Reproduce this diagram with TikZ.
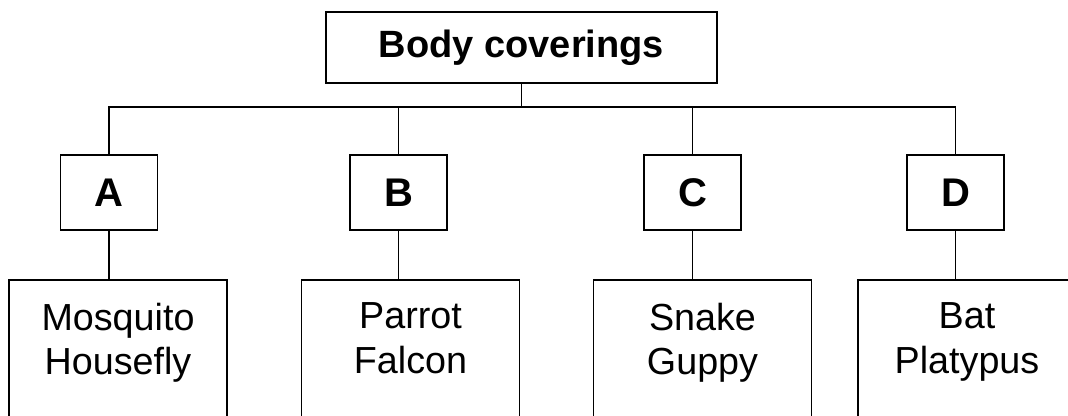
\documentclass[tikz,border=0pt]{standalone}
\usepackage{fontspec}
\setmainfont{Liberation Sans}
\usepackage{tikz}
\usetikzlibrary{positioning}
\tikzset{
	box/.style={draw, line width=1.6pt, inner sep=0pt},
	topbox/.style={box, minimum width=391pt, minimum height=71pt, font=\bfseries\fontsize{38}{44}\selectfont},
	keybox/.style={box, minimum width=97pt, minimum height=75pt, font=\bfseries\fontsize{40}{44}\selectfont},
	listbox/.style={box, anchor=north, minimum width=218pt, align=center, inner ysep=23pt, text depth=150pt, font=\fontsize{37.7}{44.7}\selectfont},
	link/.style={line width=1.6pt},
}

\begin{document}
\begin{tikzpicture}[x=1pt, y=-1pt]
\useasboundingbox (0,0) rectangle (1068,415);
\clip (0,0) rectangle (1068,415);

\node[topbox] (body) at (521.5,47.5) {Body coverings};

\node[keybox] (a) at (109,192.5) {A};
\node[keybox] (b) at (398.5,192.5) {B};
\node[keybox] (c) at (692.5,192.5) {C};
\node[keybox] (d) at (955.5,192.5) {D};

\node[listbox] (mosq) at (118,279) {Mosquito\\Housefly};
\node[listbox] (parrot) at (410.5,279) {Parrot\\Falcon};
\node[listbox] (snake) at (702.5,279) {Snake\\Guppy};
\node[listbox] (bat) at (967,279) {Bat\\Platypus};

\coordinate (bar) at (0,107);
\draw[link] (body.south) -- (body.south |- bar);
\draw[link] (a.north) -- (a.north |- bar) -- (d.north |- bar) -- (d.north);
\draw[link] (b.north) -- (b.north |- bar);
\draw[link] (c.north) -- (c.north |- bar);

\draw[link] (a.south) -- (a.south |- mosq.north);
\draw[link] (b.south) -- (b.south |- parrot.north);
\draw[link] (c.south) -- (c.south |- snake.north);
\draw[link] (d.south) -- (d.south |- bat.north);

\end{tikzpicture}
\end{document}
